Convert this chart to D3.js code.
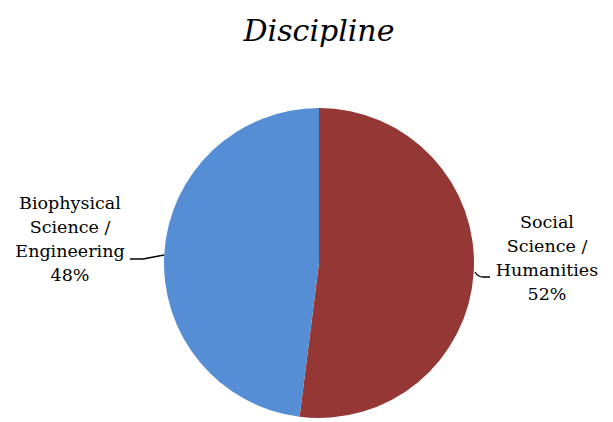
<!DOCTYPE html>
<html>
<head>
<meta charset="utf-8">
<script src="https://cdn.jsdelivr.net/npm/d3@7"></script>
<style>
  body { margin: 0; background: #fff; }
  text { font-family: "DejaVu Serif", serif; fill: #000; }
</style>
</head>
<body>
<div id="chart"></div>
<script>
// data
var categories = ["Social Science / Humanities", "Biophysical Science / Engineering"];
var values = [52, 48];
var labelLines = [["Social", "Science /", "Humanities", "52%"],
                  ["Biophysical", "Science /", "Engineering", "48%"]];
var colors = ["#953735", "#558ED5"];

var width = 613, height = 422;
var cx = 319, cy = 263, radius = 155;

var svg = d3.select("#chart").append("svg")
    .attr("width", width)
    .attr("height", height);

// title
svg.append("text")
    .attr("x", cx)
    .attr("y", 41)
    .attr("text-anchor", "middle")
    .style("font-size", "30px")
    .style("font-style", "italic")
    .text("Discipline");

var pie = d3.pie().sort(null).value(function(d) { return d; });
var arc = d3.arc().innerRadius(0).outerRadius(radius);

var g = svg.append("g").attr("transform", "translate(" + cx + "," + cy + ")");

g.selectAll("path")
    .data(pie(values))
    .enter().append("path")
    .attr("d", arc)
    .style("fill", function(d, i) { return colors[i]; });

// labels, placed beside the slices
var labelPos = [{x: 547, y: 228, anchor: "middle"}, {x: 70, y: 209, anchor: "middle"}];
var lineH = 24;

labelLines.forEach(function(lines, i) {
    var t = svg.append("text")
        .attr("text-anchor", labelPos[i].anchor)
        .style("font-size", "17.5px");
    lines.forEach(function(s, j) {
        t.append("tspan")
            .attr("x", labelPos[i].x)
            .attr("y", labelPos[i].y + j * lineH)
            .text(s);
    });
});

// leader lines
svg.append("path")
    .attr("d", "M475,272 Q478,277 483,277 L490,277")
    .style("fill", "none").style("stroke", "#000").style("stroke-width", 1.3);
svg.append("path")
    .attr("d", "M130,259 L143,259 L164,255")
    .style("fill", "none").style("stroke", "#000").style("stroke-width", 1.3);
</script>
</body>
</html>
